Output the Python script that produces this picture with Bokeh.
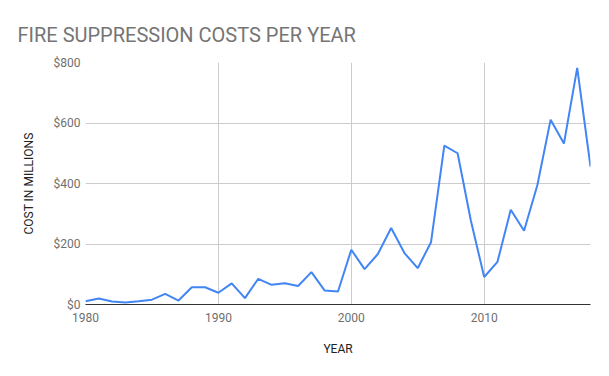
from bokeh.plotting import figure
from bokeh.models import Range1d, FixedTicker, NumeralTickFormatter, ColumnDataSource
from bokeh.embed import file_html
from bokeh.resources import INLINE

years = list(range(1980, 2019))
costs = [11, 20, 10, 7, 11, 16, 35, 13, 57, 57,
         39, 70, 21, 85, 65, 70, 61, 107, 46, 43,
         181, 117, 167, 253, 170, 120, 206, 525, 500, 277,
         91, 141, 313, 244, 394, 611, 532, 782, 456]
x_ticks = [1980, 1990, 2000, 2010]
y_ticks = [0, 200, 400, 600, 800]

src = ColumnDataSource(data=dict(year=years, cost=costs))

p = figure(width=593, height=360, output_backend="svg", toolbar_location=None,
           x_range=Range1d(1980, 2018), y_range=Range1d(0, 800),
           min_border_left=85, min_border_right=3, min_border_top=62, min_border_bottom=56)
p.outline_line_color = None
p.background_fill_color = "white"

p.title.text = "FIRE SUPPRESSION COSTS PER YEAR"
p.title.text_font = "Roboto"
p.title.text_font_size = "20px"
p.title.text_font_style = "normal"
p.title.text_color = "#757575"
p.title.align = "left"
p.title.offset = -68
p.title.standoff = 31

p.line("year", "cost", source=src, line_color="#4285F4", line_width=2)

p.xaxis.ticker = FixedTicker(ticks=x_ticks)
p.yaxis.ticker = FixedTicker(ticks=y_ticks)
p.yaxis.formatter = NumeralTickFormatter(format="$0")

for ax in (p.xaxis[0], p.yaxis[0]):
    ax.major_tick_line_color = None
    ax.minor_tick_line_color = None
    ax.major_tick_out = 0
    ax.major_tick_in = 0
    ax.minor_tick_out = 0
    ax.major_label_text_font = "Roboto"
    ax.major_label_text_font_size = "12px"
    ax.major_label_text_color = "#6f6f6f"
    ax.axis_label_text_font = "Roboto"
    ax.axis_label_text_font_size = "12px"
    ax.axis_label_text_font_style = "normal"
    ax.axis_label_text_color = "#222222"

p.xaxis.axis_label = "YEAR"
p.yaxis.axis_label = "COST IN MILLIONS"
p.xaxis.axis_line_color = "#333333"
p.yaxis.axis_line_color = None
p.xaxis.major_label_standoff = 8
p.yaxis.major_label_standoff = 5
p.xaxis.axis_label_standoff = 17
p.yaxis.axis_label_standoff = 15

p.xgrid.ticker = FixedTicker(ticks=x_ticks)
p.ygrid.ticker = FixedTicker(ticks=y_ticks)
p.xgrid.grid_line_color = "#cccccc"
p.ygrid.grid_line_color = "#cccccc"

open("out.html", "w").write(file_html(p, INLINE))
